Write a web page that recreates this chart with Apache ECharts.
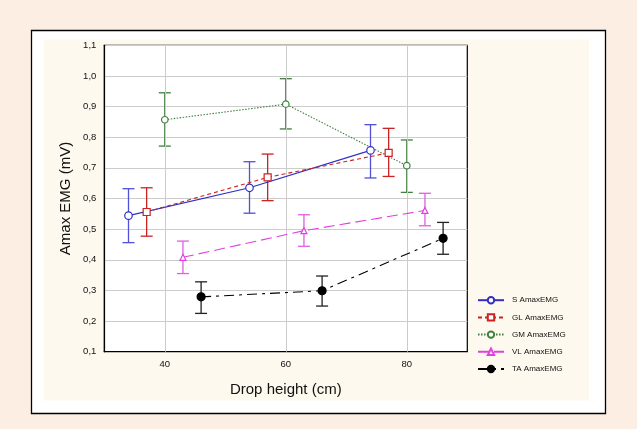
<!DOCTYPE html>
<html>
<head>
<meta charset="utf-8">
<script src="https://cdn.jsdelivr.net/npm/echarts@6/dist/echarts.min.js"></script>
<style>
html,body{margin:0;padding:0;background:#fdeee3;}
#c{width:637px;height:429px;}
</style>
</head>
<body>
<div id="c"></div>
<script>
// ---- data ----
var seriesNames = ['S AmaxEMG', 'GL AmaxEMG', 'GM AmaxEMG', 'VL AmaxEMG', 'TA AmaxEMG'];
var sX  = [34, 54, 74];
var sY  = [0.544, 0.635, 0.757];
var sLo = [0.456, 0.552, 0.667];
var sHi = [0.632, 0.720, 0.841];

var glX  = [37, 57, 77];
var glY  = [0.556, 0.669, 0.749];
var glLo = [0.477, 0.593, 0.672];
var glHi = [0.635, 0.745, 0.829];

var gmX  = [40, 60, 80];
var gmY  = [0.857, 0.908, 0.707];
var gmLo = [0.771, 0.827, 0.620];
var gmHi = [0.945, 0.991, 0.791];

var vlX  = [43, 63, 83];
var vlY  = [0.408, 0.495, 0.561];
var vlLo = [0.355, 0.444, 0.511];
var vlHi = [0.461, 0.547, 0.617];

var taX  = [46, 66, 86];
var taY  = [0.279, 0.299, 0.470];
var taLo = [0.225, 0.249, 0.418];
var taHi = [0.328, 0.347, 0.522];

var xTickValues = [40, 60, 80];

// ---- helpers ----
function pts(xs, ys) { return xs.map(function (x, i) { return [x, ys[i]]; }); }
function errs(xs, lo, hi) { return xs.map(function (x, i) { return [x, lo[i], hi[i]]; }); }

var styles = [
  {color: '#2f2fc4', symbol: 'circle', size: 7.5, fill: '#fff', type: 'solid', width: 1.2, err: '#5050d8'},
  {color: '#cc2222', symbol: 'rect', size: 7, fill: '#fff', type: [4, 3], width: 1.1, err: '#cc2222'},
  {color: '#3f7f3f', symbol: 'circle', size: 6.5, fill: '#fff', type: [1.5, 1.5], width: 1.1, err: '#3f7f3f'},
  {color: '#e040e0', symbol: 'triangle', size: 6, fill: '#fff', type: [11, 5], width: 1.1, err: '#e060e0'},
  {color: '#000000', symbol: 'circle', size: 8, fill: '#000', type: [10, 5, 3, 5], width: 1.1, err: '#222'}
];
var allPts = [pts(sX, sY), pts(glX, glY), pts(gmX, gmY), pts(vlX, vlY), pts(taX, taY)];
var allErr = [errs(sX, sLo, sHi), errs(glX, glLo, glHi), errs(gmX, gmLo, gmHi), errs(vlX, vlLo, vlHi), errs(taX, taLo, taHi)];

var series = [];
// vertical grid lines
series.push({
  type: 'line', name: '_grid', data: [], silent: true, z: 1,
  markLine: {
    silent: true, symbol: 'none', label: {show: false},
    lineStyle: {color: '#cccccc', type: 'solid', width: 1},
    data: xTickValues.map(function (v) { return {xAxis: v}; })
  }
});
styles.forEach(function (st, k) {
  series.push({
    type: 'custom', name: '_err' + k, z: 3,
    data: allErr[k],
    renderItem: function (params, api) {
      var x = api.value(0);
      var p1 = api.coord([x, api.value(1)]);
      var p2 = api.coord([x, api.value(2)]);
      var hw = 6;
      var ls = {stroke: st.err, lineWidth: 1.3};
      return {type: 'group', children: [
        {type: 'line', shape: {x1: p1[0], y1: p1[1], x2: p2[0], y2: p2[1]}, style: ls},
        {type: 'line', shape: {x1: p1[0] - hw, y1: p1[1], x2: p1[0] + hw, y2: p1[1]}, style: ls},
        {type: 'line', shape: {x1: p2[0] - hw, y1: p2[1], x2: p2[0] + hw, y2: p2[1]}, style: ls}
      ]};
    }
  });
});
styles.forEach(function (st, k) {
  series.push({
    type: 'line', name: seriesNames[k], z: 5,
    data: allPts[k],
    symbol: st.symbol, symbolSize: st.size, showAllSymbol: true,
    lineStyle: {color: st.color, type: st.type, width: st.width},
    itemStyle: {color: st.fill, borderColor: st.color, borderWidth: 1.2},
    emphasis: {disabled: true}
  });
});

var chart = echarts.init(document.getElementById('c'), null, {renderer: 'canvas'});
chart.setOption({
  animation: false,
  backgroundColor: '#fdeee3',
  graphic: [
    {type: 'rect', shape: {x: 31.5, y: 30.5, width: 574, height: 383}, style: {fill: '#ffffff', stroke: '#000', lineWidth: 1.3}, z: -10},
    {type: 'rect', shape: {x: 44, y: 39.5, width: 545, height: 361}, style: {fill: '#fef9ee', stroke: null}, z: -9}
  ],
  grid: {left: 104.3, right: 169.7, top: 45.3, bottom: 77.3, show: true, backgroundColor: '#ffffff', borderColor: '#000', borderWidth: 1.2, z: 0},
  legend: {
    orient: 'vertical', left: 472, top: 291,
    itemWidth: 26, itemHeight: 8, itemGap: 8.8,
    data: seriesNames,
    textStyle: {fontFamily: 'Liberation Sans', fontSize: 8, color: '#111', padding: [0, 0, 0, 3]}
  },
  xAxis: {
    type: 'value', min: 30, max: 90, interval: 10,
    name: 'Drop height (cm)', nameLocation: 'middle', nameGap: 31,
    nameTextStyle: {fontFamily: 'Liberation Sans', fontSize: 15, color: '#111'},
    axisLine: {lineStyle: {color: '#000', width: 1.2}},
    axisTick: {show: false},
    splitLine: {show: false},
    axisLabel: {
      fontFamily: 'Liberation Sans', fontSize: 9.5, color: '#111', margin: 8,
      formatter: function (v) { return xTickValues.indexOf(Math.round(v)) >= 0 ? String(Math.round(v)) : ''; }
    }
  },
  yAxis: {
    type: 'value', min: 0.1, max: 1.1, interval: 0.1,
    name: 'Amax EMG (mV)', nameLocation: 'middle', nameGap: 31, nameMoveOverlap: false,
    nameTextStyle: {fontFamily: 'Liberation Sans', fontSize: 15, color: '#111'},
    axisLine: {show: true, lineStyle: {color: '#000', width: 1.2}},
    axisTick: {show: false},
    splitLine: {show: true, lineStyle: {color: '#cccccc', width: 1}},
    axisLabel: {
      fontFamily: 'Liberation Sans', fontSize: 9.5, color: '#111', margin: 8,
      formatter: function (v) { return v.toFixed(1).replace('.', ','); }
    }
  },
  series: series
});
</script>
</body>
</html>
